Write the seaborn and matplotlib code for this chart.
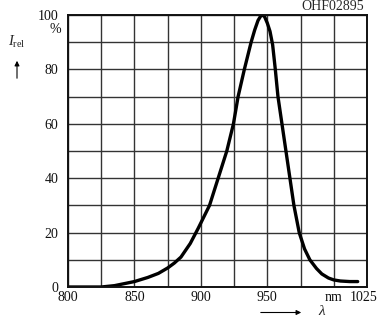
import matplotlib
matplotlib.use("Agg")
import matplotlib.pyplot as plt
from matplotlib.transforms import ScaledTranslation
import seaborn as sns
import pandas as pd

# Data
wavelength = [800, 825, 835, 850, 860, 868, 875, 880, 885, 892, 898, 906.5, 913, 919.5, 924.5,
              928, 932.7, 937.8, 940.5, 943, 945, 946.5, 948, 950, 952, 954, 956, 958, 961,
              964, 967, 970, 974, 978, 982, 987, 991, 996, 1000, 1005, 1012, 1018]
intensity = [0, 0, 0.5, 2, 3.5, 5, 7, 8.8, 11, 16, 21.6, 30, 40, 50, 60,
             70, 80, 90, 94.5, 98, 99.6, 100, 99.3, 97, 94, 89, 80, 70, 60,
             50, 40, 30, 20, 14, 10, 6.8, 4.8, 3.3, 2.6, 2.2, 2, 2]
x_ticks = [800, 850, 900, 950, 1000, 1025]
x_tick_labels = ["800", "850", "900", "950", "nm", "1025"]
y_ticks = [0, 20, 40, 60, 80, 100]
y_tick_labels = ["0", "20", "40", "60", "80", "100"]
y_unit = "%"
code_label = "OHF02895"

df = pd.DataFrame({"wavelength": wavelength, "intensity": intensity})

sns.set_style("white")
plt.rcParams["font.family"] = ["Liberation Serif", "DejaVu Serif"]
plt.rcParams["mathtext.fontset"] = "custom"
plt.rcParams["mathtext.rm"] = "Liberation Serif"
plt.rcParams["mathtext.it"] = "Liberation Serif:italic"

fig = plt.figure(figsize=(3.79, 3.23), dpi=100)
ax = fig.add_axes([68 / 379, 1 - 287 / 323, (367 - 68) / 379, (287 - 15) / 323])

sns.lineplot(data=df, x="wavelength", y="intensity", ax=ax, color="black",
             linewidth=2.4, solid_capstyle="round", solid_joinstyle="round")

ax.set_xlim(800, 1025)
ax.set_ylim(0, 100)
ax.set_xticks(range(825, 1026, 50), minor=True)
ax.set_yticks(range(10, 101, 20), minor=True)
ax.set_xticks(x_ticks)
ax.set_xticklabels(x_tick_labels)
ax.set_yticks(y_ticks)
ax.set_yticklabels(y_tick_labels)
ax.grid(which="both", color="#333333", linewidth=1.0)
ax.set_axisbelow(True)

ax.tick_params(which="both", length=0, labelsize=10, colors="#111111")
ax.tick_params(axis="x", pad=3)
ax.tick_params(axis="y", pad=7)
lbl = ax.get_xticklabels()[-1]
lbl.set_transform(lbl.get_transform() + ScaledTranslation(-3 / 100, 0, fig.dpi_scale_trans))
ax.set_xlabel("")
ax.set_ylabel("")
for s in ax.spines.values():
    s.set_color("#111111")
    s.set_linewidth(1.4)

ax.text(-7 / 299, 94.5, y_unit, transform=ax.get_yaxis_transform(), ha="right",
        va="center", fontsize=10, color="#111111")

# Axis annotations
fig.text(8 / 379, 1 - 42 / 323, r"$I_{\mathrm{rel}}$", fontsize=10.5, ha="left", va="center")
fig.add_artist(matplotlib.patches.FancyArrowPatch(
    (17 / 379, 1 - 81 / 323), (17 / 379, 1 - 58 / 323), transform=fig.transFigure,
    arrowstyle="-|>", mutation_scale=7, color="black", linewidth=0.8))
fig.text(322 / 379, 1 - 311 / 323, r"$\lambda$", fontsize=11, ha="center", va="center")
fig.add_artist(matplotlib.patches.FancyArrowPatch(
    (258 / 379, 1 - 312.5 / 323), (304 / 379, 1 - 312.5 / 323), transform=fig.transFigure,
    arrowstyle="-|>", mutation_scale=7, color="black", linewidth=0.8))
fig.text(364 / 379, 1 - 6 / 323, code_label, fontsize=10, ha="right", va="center")

fig.savefig("out.png", dpi=100)
